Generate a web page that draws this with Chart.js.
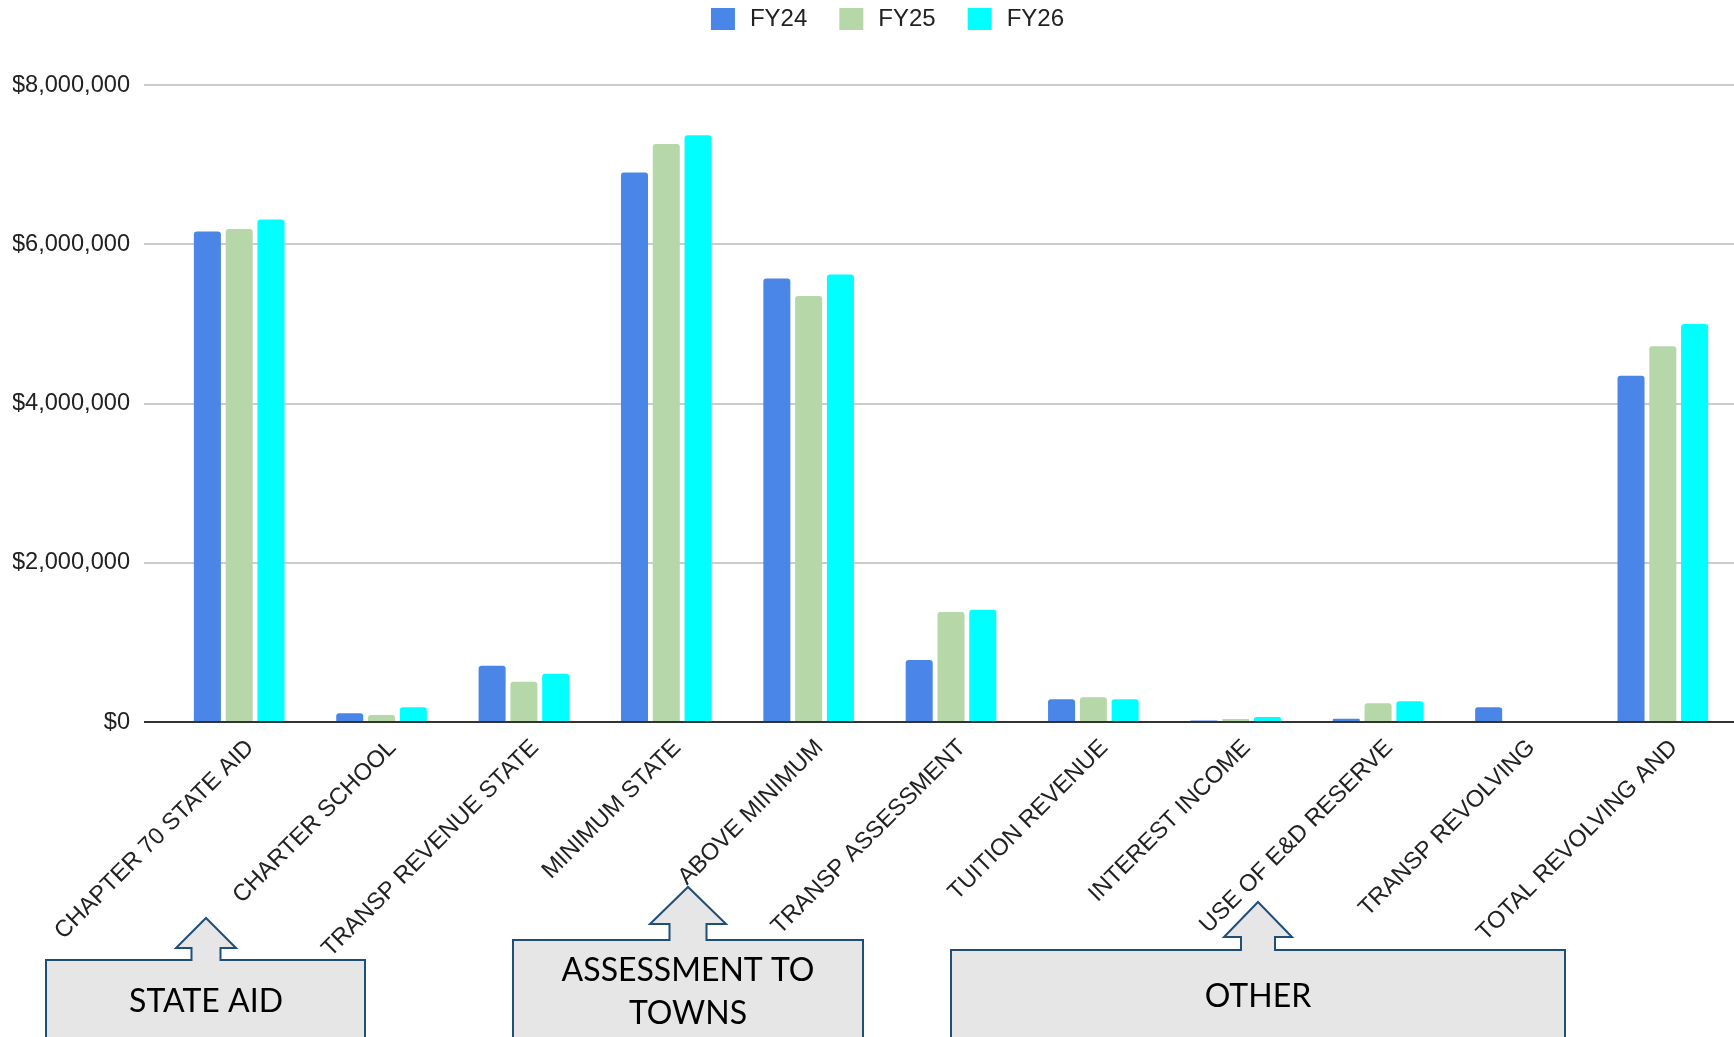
<!DOCTYPE html>
<html>
<head>
<meta charset="utf-8">
<title>Revenue sources FY24–FY26</title>
<script src="https://cdn.jsdelivr.net/npm/chart.js@4.4.1/dist/chart.umd.min.js"></script>
<style>
  html, body { margin: 0; padding: 0; background: #ffffff; }
  #wrap { width: 1734px; height: 1037px; position: relative; overflow: hidden; }
  canvas { display: block; }
</style>
</head>
<body>
<div id="wrap"><canvas id="revenueChart" width="1734" height="1037"></canvas></div>
<script>
// Revenue categories along the x axis
const categories = [
  'CHAPTER 70 STATE AID',
  'CHARTER SCHOOL',
  'TRANSP REVENUE STATE',
  'MINIMUM STATE',
  'ABOVE MINIMUM',
  'TRANSP ASSESSMENT',
  'TUITION REVENUE',
  'INTEREST INCOME',
  'USE OF E&D RESERVE',
  'TRANSP REVOLVING',
  'TOTAL REVOLVING AND'
];

// Fiscal-year series (dollars)
const seriesNames = ['FY24', 'FY25', 'FY26'];
const fy24 = [6160000, 110000, 705000, 6900000, 5570000, 780000, 285000, 18000, 40000, 185000, 4350000];
const fy25 = [6190000, 87000, 506000, 7260000, 5350000, 1380000, 310000, 38000, 235000, 0, 4720000];
const fy26 = [6310000, 186000, 606000, 7370000, 5620000, 1410000, 285000, 63000, 260000, 0, 5000000];

// Value axis range and step
const yMin = 0;
const yMax = 8000000;
const yStep = 2000000;

// Group callouts shown under the axis labels
const groupLabels = [
  ['STATE AID'],
  ['ASSESSMENT TO', 'TOWNS'],
  ['OTHER']
];

const seriesColors = ['#4a86e8', '#b6d7a8', '#00ffff'];
const axisFont = { family: "'Liberation Sans', Arial, sans-serif", size: 23.6 };
const legendFont = { family: "'Liberation Sans', Arial, sans-serif", size: 24 };
const textColor = '#222222';

// Legend block: fixed height so the plot starts just below it,
// and nudged right so the items sit centred over the plot
const legendPlacement = {
  id: 'legendPlacement',
  beforeInit(chart) {
    const originalFit = chart.legend.fit;
    chart.legend.fit = function () {
      originalFit.call(this);
      this.height = 109;
    };
  },
  afterLayout(chart) {
    chart.legend.left += 25;
  }
};

// Callout boxes with an up-arrow pointing at each group of categories
function drawCallout(ctx, c, bottom) {
  ctx.save();
  ctx.beginPath();
  ctx.moveTo(c.left, bottom);
  ctx.lineTo(c.left, c.top);
  ctx.lineTo(c.cx - c.stemHalf, c.top);
  ctx.lineTo(c.cx - c.stemHalf, c.headBase);
  ctx.lineTo(c.cx - c.headHalf, c.headBase);
  ctx.lineTo(c.cx, c.tip);
  ctx.lineTo(c.cx + c.headHalf, c.headBase);
  ctx.lineTo(c.cx + c.stemHalf, c.headBase);
  ctx.lineTo(c.cx + c.stemHalf, c.top);
  ctx.lineTo(c.right, c.top);
  ctx.lineTo(c.right, bottom);
  ctx.closePath();
  ctx.fillStyle = '#e6e6e6';
  ctx.fill();
  ctx.lineWidth = 2;
  ctx.strokeStyle = '#1f4e79';
  ctx.lineJoin = 'miter';
  ctx.stroke();

  ctx.fillStyle = '#000000';
  ctx.font = "32px Lato, 'Open Sans', sans-serif";
  ctx.textAlign = 'center';
  ctx.textBaseline = 'middle';
  c.lines.forEach((line, i) => {
    ctx.fillText(line, c.cx, c.textY + i * c.lineGap);
  });
  ctx.restore();
}

const callouts = {
  id: 'callouts',
  afterDraw(chart) {
    const ctx = chart.ctx;
    const bottom = chart.height + 6;
    const boxes = [
      { left: 46, right: 365, top: 960, cx: 206, tip: 918, headBase: 948, headHalf: 30, stemHalf: 14.5, textY: 1002, lineGap: 0, lines: groupLabels[0] },
      { left: 513, right: 863, top: 940, cx: 688, tip: 887, headBase: 924, headHalf: 38, stemHalf: 18.5, textY: 971, lineGap: 43, lines: groupLabels[1] },
      { left: 951, right: 1565, top: 950, cx: 1258, tip: 902, headBase: 937, headHalf: 34, stemHalf: 17, textY: 997, lineGap: 0, lines: groupLabels[2] }
    ];
    boxes.forEach(b => drawCallout(ctx, b, bottom));
  }
};

const seriesData = [fy24, fy25, fy26];

new Chart(document.getElementById('revenueChart'), {
  type: 'bar',
  data: {
    labels: categories,
    datasets: seriesNames.map((name, i) => ({
      label: name,
      data: seriesData[i],
      backgroundColor: seriesColors[i],
      borderWidth: 0,
      borderRadius: { topLeft: 3, topRight: 3, bottomLeft: 0, bottomRight: 0 },
      borderSkipped: false,
      barPercentage: 0.85,
      categoryPercentage: 0.67
    }))
  },
  options: {
    responsive: false,
    animation: false,
    devicePixelRatio: 1,
    layout: { padding: { left: 13, right: 0, top: -24, bottom: 0 } },
    plugins: {
      legend: {
        position: 'top',
        align: 'center',
        labels: {
          boxWidth: 30,
          boxHeight: 28,
          padding: 29,
          color: textColor,
          font: legendFont,
          // white outline trims each swatch and widens the gap before its text
          generateLabels(chart) {
            const items = Chart.defaults.plugins.legend.labels.generateLabels(chart);
            items.forEach(item => {
              item.strokeStyle = '#ffffff';
              item.lineWidth = 6;
            });
            return items;
          }
        }
      },
      tooltip: { enabled: false },
      title: { display: false }
    },
    scales: {
      x: {
        offset: true,
        grid: { display: false },
        border: { display: false },
        ticks: {
          color: textColor,
          font: axisFont,
          autoSkip: false,
          maxRotation: 45,
          minRotation: 45,
          padding: 4,
          labelOffset: 11
        },
        afterFit(scale) {
          scale.height = 315;
          scale.paddingLeft = 0;
          scale.paddingRight = 0;
        }
      },
      y: {
        min: yMin,
        max: yMax,
        border: { display: false },
        grid: {
          color: ctx => (ctx.tick && ctx.tick.value === 0 ? '#333333' : '#cccccc'),
          lineWidth: 2,
          drawTicks: true,
          tickLength: 24
        },
        ticks: {
          stepSize: yStep,
          padding: 14,
          color: textColor,
          font: axisFont,
          callback: v => '$' + Number(v).toLocaleString('en-US')
        },
        afterFit(scale) { scale.width = 155; }
      }
    }
  },
  plugins: [legendPlacement, callouts]
});
</script>
</body>
</html>
